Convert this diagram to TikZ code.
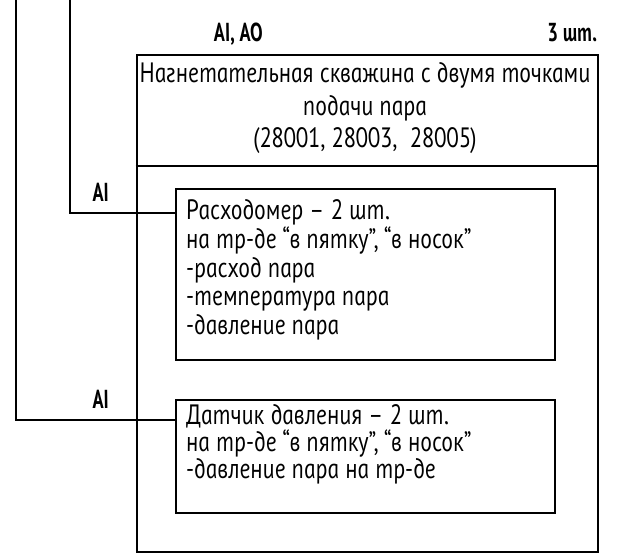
\documentclass[tikz,border=0pt]{standalone}
\usepackage{fontspec}
% Upright, condensed italic-form Cyrillic, in the manner of drafting lettering
\newfontfamily\gost{PT Sans Italic}[FakeSlant=-0.17,FakeStretch=0.84]
\newfontfamily\gostb{PT Sans Bold Italic}[FakeSlant=-0.17,FakeStretch=0.74]
\begin{document}
\begin{tikzpicture}[x=1pt,y=-1pt,
  outerbox/.style={draw,line width=2.8pt,minimum width=461pt,minimum height=497pt,inner sep=0pt},
  devbox/.style={draw,line width=1.2pt,minimum width=379pt,inner sep=0pt},
  wire/.style={line width=1.4pt},
  body/.style={font=\gost\fontsize{28}{32}\selectfont,inner sep=0pt},
  tag/.style={font=\gostb\fontsize{26}{30}\selectfont,inner sep=0pt}]
\useasboundingbox (0,0) rectangle (629,556);

% outer frame with header band
\node[outerbox] (frame) at (367.5,303.5) {};
\draw[line width=2.8pt] (frame.west |- 0,166) coordinate (hl) -- (frame.east |- hl);

% header labels
\node[tag,anchor=base] (sig) at (239,41.5) {AI, AO};
\node[tag,anchor=base east] (qty) at (598,41.5) {3 шт.};

% header text
\node[body,anchor=base] (h1) at (366,83) {Нагнетательная скважина с двумя точками};
\node[body,anchor=base] (h2) at (366,116) {подачи пара};
\node[body,anchor=base] (h3) at (366,148) {(28001, 28003,\ \ 28005)};

% device boxes
\node[devbox,minimum height=171pt] (flow) at (365.5,274.5) {};
\node[devbox,minimum height=113pt] (press) at (365.5,456.5) {};

\node[body,anchor=base west] (f1) at (187,220) {Расходомер – 2 шт.};
\node[body,anchor=base west] (f2) at (187,248.5) {на тр-де “в пятку”, “в носок”};
\node[body,anchor=base west] (f3) at (187,277) {-расход пара};
\node[body,anchor=base west] (f4) at (187,305.5) {-температура пара};
\node[body,anchor=base west] (f5) at (187,334) {-давление пара};

\node[body,anchor=base west] (p1) at (187,424.5) {Датчик давления – 2 шт.};
\node[body,anchor=base west] (p2) at (187,451.5) {на тр-де “в пятку”, “в носок”};
\node[body,anchor=base west] (p3) at (187,478.5) {-давление пара на тр-де};

% signal lines
\coordinate (top1) at (70,0);
\coordinate (top2) at (16,0);
\coordinate (in1) at (flow.west |- 0,213);
\coordinate (in2) at (press.west |- 0,420);
\draw[wire] (top1) |- (in1);
\draw[wire] (top2) |- (in2);
\node[tag,anchor=base east] (s1) at (110,201.5) {AI};
\node[tag,anchor=base east] (s2) at (110,408.5) {AI};
\end{tikzpicture}
\end{document}
